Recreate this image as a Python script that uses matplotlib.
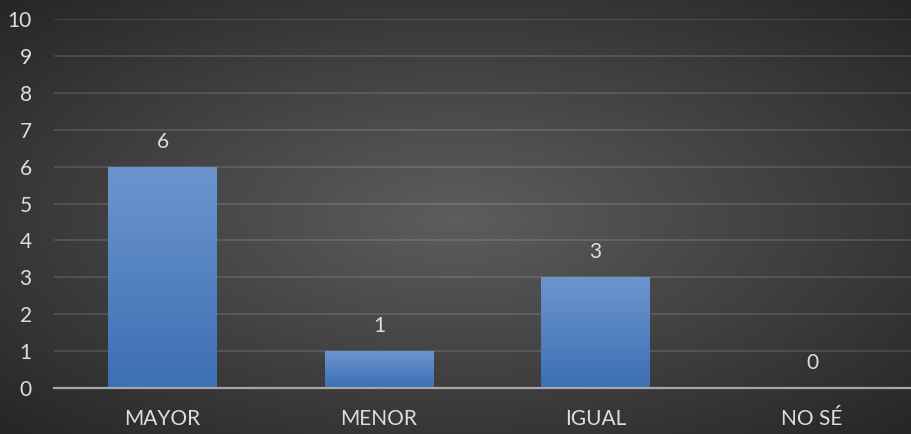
import numpy as np
import matplotlib
matplotlib.use("Agg")
import matplotlib.pyplot as plt
from matplotlib.colors import LinearSegmentedColormap

# data
categories = ["MAYOR", "MENOR", "IGUAL", "NO SÉ"]
values = [6, 1, 3, 0]
y_ticks = list(range(0, 11))

plt.rcParams['font.family'] = ['Lato', 'DejaVu Sans']
text_color = "#dedede"

fig = plt.figure(figsize=(9.12, 4.34), dpi=100)

# radial dark background
bg = fig.add_axes([0, 0, 1, 1], zorder=-10)
xx, yy = np.meshgrid(np.linspace(-1, 1, 400), np.linspace(-1, 1, 200))
r = np.clip(np.sqrt(xx**2 + yy**2) / np.sqrt(2), 0, 1)
bg_cmap = LinearSegmentedColormap.from_list("bg", ["#5d5d5d", "#262626"])
bg.imshow(r, cmap=bg_cmap, aspect="auto", extent=[0, 1, 0, 1], vmin=0, vmax=1)
bg.axis("off")

ax = fig.add_axes([54 / 912, 46 / 434, 1 - 54 / 912, (388 - 19) / 434])
ax.patch.set_alpha(0)

x = np.arange(len(categories))
bars = ax.bar(x, values, width=0.5, color="#4a7cc0", zorder=3)

# vertical gradient on each bar
bar_cmap = LinearSegmentedColormap.from_list("bar", ["#3d6fb5", "#6c95cd"])
grad = np.linspace(0, 1, 256).reshape(-1, 1)
for b in bars:
    if b.get_height() <= 0:
        continue
    x0, w, h = b.get_x(), b.get_width(), b.get_height()
    im = ax.imshow(grad, cmap=bar_cmap, aspect="auto", origin="lower",
                   extent=[x0, x0 + w, 0, h], zorder=4)
    im.set_clip_path(b)

# value labels
for xi, v in zip(x, values):
    ax.annotate(str(v), (xi, v), xytext=(0, 25), textcoords="offset pixels",
                ha="center", va="center", color=text_color, fontsize=15, zorder=5)

ax.set_xlim(-0.501, 3.462)
ax.set_ylim(0, 10)
ax.set_yticks(y_ticks)
ax.set_xticks(x)
ax.set_xticklabels(categories)

ax.yaxis.grid(True, color="white", alpha=0.13, linewidth=1.3, zorder=0)
ax.set_axisbelow(True)
ax.tick_params(axis="y", length=0, pad=16, labelsize=15, labelcolor=text_color)
ax.tick_params(axis="x", length=0, pad=15, labelsize=15, labelcolor=text_color)

for s in ["top", "right", "left"]:
    ax.spines[s].set_visible(False)
ax.spines["bottom"].set_color("#a6a6a6")
ax.spines["bottom"].set_linewidth(1.6)
ax.spines["bottom"].set_zorder(6)

plt.savefig("out.png", dpi=100)
